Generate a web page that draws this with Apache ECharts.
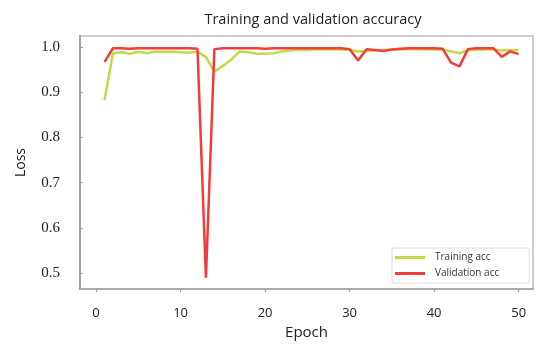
<!DOCTYPE html>
<html><head><meta charset="utf-8">
<script src="https://cdn.jsdelivr.net/npm/echarts@6/dist/echarts.min.js"></script>
<style>html,body{margin:0;padding:0;background:#fff}#c{width:539px;height:345px}</style>
</head><body><div id="c"></div>
<script>
const epochs = [1,2,3,4,5,6,7,8,9,10,11,12,13,14,15,16,17,18,19,20,21,22,23,24,25,26,27,28,29,30,31,32,33,34,35,36,37,38,39,40,41,42,43,44,45,46,47,48,49,50];
const trainAcc = [0.882,0.986,0.988,0.985,0.989,0.986,0.990,0.989,0.990,0.988,0.987,0.989,0.978,0.945,0.958,0.972,0.990,0.988,0.985,0.985,0.986,0.990,0.992,0.993,0.993,0.994,0.994,0.995,0.994,0.993,0.990,0.991,0.992,0.993,0.994,0.994,0.995,0.995,0.994,0.995,0.994,0.990,0.986,0.992,0.993,0.994,0.994,0.992,0.993,0.993];
const valAcc = [0.967,0.997,0.997,0.996,0.997,0.997,0.997,0.997,0.997,0.997,0.997,0.996,0.490,0.995,0.997,0.997,0.997,0.997,0.997,0.996,0.997,0.997,0.997,0.997,0.997,0.997,0.997,0.997,0.997,0.995,0.970,0.995,0.993,0.991,0.994,0.996,0.997,0.997,0.997,0.997,0.996,0.965,0.957,0.995,0.997,0.997,0.997,0.978,0.990,0.984];
const xTicks = [0,10,20,30,40,50];
const yTicks = [0.5,0.6,0.7,0.8,0.9,1.0];
const seriesNames = ['Training acc','Validation acc'];

const chart = echarts.init(document.getElementById('c'), null, {renderer:'canvas'});
const axisCol = '#a0a0a0';
chart.setOption({
  animation:false,
  backgroundColor:'#fff',
  title:{text:'Training and validation accuracy', left:308, top:7, textAlign:'center',
    textStyle:{fontFamily:'Open Sans', fontSize:14.5, fontWeight:'normal', color:'#222'}},
  grid:{left:80, top:36, right:6, bottom:53, show:true, borderColor:'#bdbdbd', borderWidth:1.5},
  legend:{
    data:seriesNames, orient:'vertical', left:392, top:248,
    icon:'rect', itemWidth:30, itemHeight:3, itemGap:3,
    padding:[3,30,3,3], borderColor:'#dcdcdc', borderWidth:1, borderRadius:2,
    textStyle:{fontFamily:'Open Sans', fontSize:10, color:'#333', lineHeight:13, padding:[0,0,0,5]}
  },
  xAxis:{type:'value', min:-1.9, max:51.7,
    name:'Epoch', nameLocation:'middle', nameGap:33,
    nameTextStyle:{fontFamily:'Open Sans', fontSize:15, color:'#222'},
    axisLine:{show:true, onZero:false, lineStyle:{color:axisCol, width:1.5}},
    axisTick:{show:true, customValues:xTicks, length:3, lineStyle:{color:axisCol}},
    axisLabel:{customValues:xTicks, margin:18, fontFamily:'Open Sans', fontSize:13, color:'#222'},
    splitLine:{show:false}},
  yAxis:{type:'value', min:0.465, max:1.024,
    name:'Loss', nameLocation:'middle', nameGap:52, nameRotate:90,
    nameTextStyle:{fontFamily:'Open Sans', fontSize:14, color:'#222'},
    axisLine:{show:true, onZero:false, lineStyle:{color:axisCol, width:2}},
    axisTick:{show:true, inside:true, customValues:yTicks, length:3, lineStyle:{color:axisCol}},
    axisLabel:{customValues:yTicks, margin:20, fontFamily:'Liberation Serif', fontSize:15, color:'#222',
      formatter:v=>v.toFixed(1)},
    splitLine:{show:false}},
  series:[
    {name:seriesNames[0], type:'line', data:epochs.map((e,i)=>[e,trainAcc[i]]), showSymbol:false,
      lineStyle:{color:'#c8d648', width:2.5}, itemStyle:{color:'#c8d648'}, z:2},
    {name:seriesNames[1], type:'line', data:epochs.map((e,i)=>[e,valAcc[i]]), showSymbol:false,
      lineStyle:{color:'#f23c3c', width:2.5}, itemStyle:{color:'#f23c3c'}, z:3}
  ]
});
</script></body></html>
